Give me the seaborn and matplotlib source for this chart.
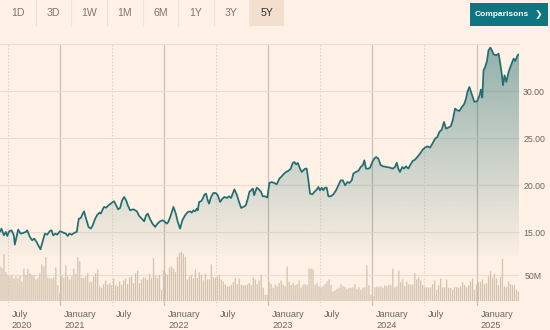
import numpy as np
import pandas as pd
import matplotlib
matplotlib.use("Agg")
import matplotlib.pyplot as plt
import matplotlib.dates as mdates
from matplotlib.patches import Polygon, Rectangle
import seaborn as sns

# ---------------- data ----------------
price_years = [
    2020.420, 2020.436, 2020.459, 2020.478, 2020.491, 2020.510, 2020.532, 2020.555, 2020.564, 2020.596,
    2020.619, 2020.645, 2020.670, 2020.683, 2020.709, 2020.731, 2020.750, 2020.773, 2020.789, 2020.811,
    2020.830, 2020.853, 2020.875, 2020.901, 2020.917, 2020.933, 2020.955, 2020.971, 2020.997, 2021.013,
    2021.029, 2021.052, 2021.071, 2021.087, 2021.109, 2021.132, 2021.157, 2021.177, 2021.196, 2021.215,
    2021.228, 2021.247, 2021.270, 2021.292, 2021.311, 2021.334, 2021.356, 2021.375, 2021.388, 2021.407,
    2021.420, 2021.439, 2021.462, 2021.484, 2021.504, 2021.516, 2021.536, 2021.555, 2021.574, 2021.593,
    2021.613, 2021.632, 2021.648, 2021.670, 2021.702, 2021.735, 2021.757, 2021.783, 2021.805, 2021.824,
    2021.840, 2021.863, 2021.885, 2021.911, 2021.933, 2021.958, 2021.981, 2022.000, 2022.023, 2022.038,
    2022.062, 2022.087, 2022.110, 2022.129, 2022.151, 2022.173, 2022.199, 2022.225, 2022.247, 2022.263,
    2022.279, 2022.295, 2022.312, 2022.321, 2022.334, 2022.353, 2022.369, 2022.385, 2022.401, 2022.417,
    2022.430, 2022.449, 2022.471, 2022.494, 2022.513, 2022.536, 2022.558, 2022.577, 2022.600, 2022.622,
    2022.641, 2022.654, 2022.673, 2022.696, 2022.718, 2022.738, 2022.760, 2022.783, 2022.802, 2022.817,
    2022.834, 2022.850, 2022.863, 2022.888, 2022.911, 2022.930, 2022.946, 2022.968, 2022.990, 2023.010,
    2023.033, 2023.055, 2023.081, 2023.106, 2023.129, 2023.151, 2023.170, 2023.192, 2023.215, 2023.235,
    2023.250, 2023.266, 2023.283, 2023.305, 2023.321, 2023.337, 2023.353, 2023.369, 2023.385, 2023.401,
    2023.423, 2023.442, 2023.465, 2023.481, 2023.497, 2023.513, 2023.529, 2023.545, 2023.561, 2023.577,
    2023.600, 2023.625, 2023.651, 2023.673, 2023.696, 2023.715, 2023.738, 2023.760, 2023.779, 2023.802,
    2023.817, 2023.840, 2023.865, 2023.888, 2023.908, 2023.923, 2023.939, 2023.962, 2023.978, 2024.000,
    2024.019, 2024.036, 2024.058, 2024.081, 2024.106, 2024.138, 2024.170, 2024.196, 2024.218, 2024.235,
    2024.250, 2024.266, 2024.288, 2024.305, 2024.324, 2024.346, 2024.363, 2024.388, 2024.411, 2024.433,
    2024.459, 2024.485, 2024.507, 2024.529, 2024.555, 2024.581, 2024.603, 2024.625, 2024.644, 2024.667,
    2024.689, 2024.709, 2024.731, 2024.754, 2024.773, 2024.795, 2024.817, 2024.837, 2024.860, 2024.882,
    2024.901, 2024.914, 2024.933, 2024.949, 2024.965, 2024.981, 2025.004, 2025.029, 2025.042, 2025.055,
    2025.067, 2025.083, 2025.100, 2025.115, 2025.132, 2025.148, 2025.163, 2025.189, 2025.212, 2025.228,
    2025.244, 2025.254, 2025.269, 2025.286, 2025.308, 2025.331, 2025.356, 2025.372, 2025.394, 2025.408,
]
price_values = [
    15.04, 15.39, 14.68, 15.04, 14.61, 15.11, 15.21, 14.68, 13.69, 15.28,
    14.86, 14.93, 15.04, 15.21, 14.50, 14.15, 14.33, 13.97, 13.62, 13.19,
    13.97, 14.86, 14.75, 15.14, 15.21, 14.68, 14.86, 14.75, 15.11, 15.04,
    14.96, 14.86, 14.61, 14.86, 14.75, 14.93, 15.04, 16.45, 16.52, 16.99,
    17.23, 16.45, 15.57, 15.39, 15.74, 16.45, 16.88, 17.09, 16.99, 17.45,
    17.70, 17.62, 17.87, 18.05, 18.23, 18.30, 17.87, 17.45, 17.59, 18.40,
    18.76, 18.40, 17.87, 17.34, 17.45, 17.23, 16.74, 16.45, 16.17, 16.81,
    16.99, 16.38, 15.92, 15.57, 15.92, 16.17, 16.28, 16.17, 15.92, 16.10,
    16.81, 17.70, 16.99, 16.10, 15.39, 16.28, 16.81, 17.16, 17.23, 17.09,
    17.34, 17.23, 17.52, 17.34, 18.23, 18.30, 18.58, 19.01, 19.11, 18.40,
    18.05, 18.76, 19.18, 19.18, 18.94, 18.23, 18.58, 18.76, 18.65, 18.83,
    18.65, 19.01, 19.57, 19.01, 18.23, 17.59, 17.70, 17.87, 18.58, 19.29,
    19.47, 19.65, 18.94, 19.75, 19.54, 19.29, 18.83, 18.83, 18.69, 20.25,
    20.35, 20.25, 20.11, 20.71, 20.96, 21.24, 21.42, 21.53, 21.77, 22.38,
    22.48, 22.23, 22.38, 21.77, 21.42, 21.60, 21.77, 21.77, 20.53, 19.11,
    19.04, 19.29, 19.54, 19.82, 19.47, 19.75, 19.47, 19.75, 19.75, 18.83,
    18.83, 19.04, 19.47, 20.00, 20.53, 20.53, 20.00, 20.35, 20.25, 20.53,
    21.24, 21.42, 21.53, 21.95, 22.13, 22.66, 21.77, 21.77, 21.88, 22.48,
    22.84, 23.01, 22.84, 22.13, 22.02, 21.95, 21.88, 21.77, 21.95, 22.41,
    21.77, 21.42, 21.95, 21.77, 22.02, 21.77, 22.13, 22.59, 22.73, 23.01,
    23.37, 23.80, 24.01, 24.15, 24.01, 24.50, 24.96, 25.14, 25.67, 25.92,
    26.74, 26.03, 26.14, 26.28, 26.91, 28.16, 27.98, 27.91, 28.33, 28.62,
    29.22, 29.93, 30.46, 29.93, 29.40, 28.87, 28.94, 29.57, 30.18, 29.33,
    32.23, 32.59, 33.23, 34.36, 34.65, 34.36, 33.94, 33.83, 34.01, 32.94,
    31.70, 30.64, 31.70, 31.00, 32.06, 32.77, 33.48, 33.23, 33.83, 33.94,
]

volume_first_week = "2020-06-03"
volume_millions = [
    67, 64, 91, 56, 51, 48, 51, 44, 48, 44, 49, 38, 63, 51, 63, 54, 51, 50, 42, 45,
    54, 71, 67, 85, 46, 44, 44, 46, 65, 31, 16, 50, 45, 69, 48, 42, 48, 63, 53, 85,
    77, 45, 45, 48, 54, 37, 38, 48, 54, 61, 29, 26, 33, 40, 32, 35, 31, 44, 31, 29,
    38, 32, 40, 44, 33, 46, 48, 35, 54, 59, 35, 42, 46, 45, 42, 53, 45, 83, 50, 45,
    51, 22, 59, 54, 51, 65, 67, 63,
    56, 85, 93, 95, 91, 85, 42, 48, 51, 44, 61, 45, 56, 51, 40, 53, 42, 42, 71, 46,
    45, 48, 51, 42, 38, 33, 29, 29, 32, 37, 45, 33, 44, 32, 31, 31, 32, 35, 31, 46,
    42, 33, 40, 51, 26, 13, 12, 37, 33, 26, 32, 29, 35, 40, 32, 29, 67, 38, 31, 35,
    31, 33, 40, 27, 32, 33, 32, 63, 63, 61, 32, 35, 29, 27, 29, 33, 38, 42, 32, 19,
    21, 24, 26, 33, 29, 27, 24,
    26, 26, 27, 33, 24, 27, 22, 26, 27, 69, 31, 13, 10, 27, 29, 27, 29, 26, 31, 29,
    32, 31, 63, 27, 29, 59, 37, 42, 29, 38, 33, 32, 32, 54, 42, 46, 40, 31, 27, 27,
    26, 27, 33, 40, 22, 31, 44, 27, 27, 42, 26, 26, 22, 27, 27, 26, 29, 37, 31, 27,
    31, 38, 44, 22, 32, 37, 38, 42, 33, 35, 48, 58, 46, 53, 44, 31, 46, 82, 29, 27,
    38, 33, 31, 31, 22, 19,
]

tab_labels = ["1D", "3D", "1W", "1M", "6M", "1Y", "3Y", "5Y"]
active_tab = "5Y"
button_label = "Comparisons"
price_ticks = [15, 20, 25, 30]
price_tick_labels = ["15.00", "20.00", "25.00", "30.00"]
volume_ticks = [50]
volume_tick_labels = ["50M"]
year_tick_dates = ["2021-01-01", "2022-01-01", "2023-01-01", "2024-01-01", "2025-01-01"]
july_tick_dates = ["2020-07-01", "2021-07-01", "2022-07-01", "2023-07-01", "2024-07-01"]
axis_labels = [
    ("2020-07-01", "July", "2020"), ("2021-01-01", "January", "2021"),
    ("2021-07-01", "July", ""), ("2022-01-01", "January", "2022"),
    ("2022-07-01", "July", ""), ("2023-01-01", "January", "2023"),
    ("2023-07-01", "July", ""), ("2024-01-01", "January", "2024"),
    ("2024-07-01", "July", ""), ("2025-01-01", "January", "2025"),
]

# ---------------- style ----------------
BG = "#fff1e5"
LINE = "#226e71"
GRID = "#eadcd0"
MAJOR = "#cabfb4"
MINOR = "#e3d6c9"
BAR = "#d3c2ae"
TXT = "#6b6560"

sns.set_theme(style="white", rc={"axes.facecolor": "none", "figure.facecolor": BG})
plt.rcParams["font.family"] = ["Liberation Sans", "DejaVu Sans"]

W, H = 550, 330


def dec_to_ts(y):
    yr = int(np.floor(y))
    return pd.Timestamp(yr, 1, 1) + pd.Timedelta(days=(y - yr) * 365.25)


price_dates = [dec_to_ts(y) for y in price_years]
df = pd.DataFrame({"date": price_dates, "price": price_values})
vol_dates = pd.date_range(volume_first_week, periods=len(volume_millions), freq="7D")

x_lo = pd.Timestamp("2020-06-03")
x_hi = pd.Timestamp("2025-05-30")
P_LO, P_HI = 12.5, 35.0
V_HI = 98.7


def fr(px_left, px_top, px_w, px_h):
    return [px_left / W, 1 - (px_top + px_h) / H, px_w / W, px_h / H]


fig = plt.figure(figsize=(W / 100, H / 100), dpi=100)
fig.patch.set_facecolor(BG)

AX_W = 519
# overlay for vertical grid lines
ax0 = fig.add_axes(fr(0, 44.3, AX_W, 306 - 44.3))
ax0.set_xlim(x_lo, x_hi)
ax0.set_ylim(0, 1)
for d in year_tick_dates:
    ax0.axvline(pd.Timestamp(d), color=MAJOR, lw=0.9, zorder=0)
for d in july_tick_dates:
    ax0.axvline(pd.Timestamp(d), color=MINOR, lw=0.8, ls=(0, (1.5, 1.5)), zorder=0)
ax0.axis("off")

# volume axes
axv = fig.add_axes(fr(0, 250.0, AX_W, 51.3))
axv.set_xlim(x_lo, x_hi)
axv.set_ylim(0, V_HI)
bars = axv.bar(vol_dates, volume_millions, width=4.4, color=BAR, linewidth=0, zorder=2)
for b in bars:
    b.set_snap(False)
for v in volume_ticks:
    axv.axhline(v, color=GRID, lw=0.8, zorder=1)
axv.yaxis.tick_right()
axv.set_yticks(volume_ticks)
axv.set_yticklabels(volume_tick_labels)
axv.tick_params(axis="y", length=0, pad=4, labelsize=6.3, labelcolor=TXT)
tick_dates = sorted([pd.Timestamp(d) for d in year_tick_dates + july_tick_dates])
axv.set_xticks(tick_dates)
axv.set_xticklabels([])
axv.tick_params(axis="x", direction="out", length=3.3, width=0.8, color="#bdb1a6", pad=0)
for s in axv.spines.values():
    s.set_visible(False)
axv.set_xlim(x_lo, x_hi)
for d, m, y in axis_labels:
    axv.annotate(m, xy=(pd.Timestamp(d), 0), xycoords=("data", "axes fraction"),
                 xytext=(4, -13.2), textcoords="offset pixels", ha="left", va="center",
                 fontsize=6.6, color=TXT, annotation_clip=False)
    if y:
        axv.annotate(y, xy=(pd.Timestamp(d), 0), xycoords=("data", "axes fraction"),
                     xytext=(4, -24.2), textcoords="offset pixels", ha="left", va="center",
                     fontsize=6.6, color=TXT, annotation_clip=False)

# price axes
ax = fig.add_axes(fr(0, 44.3, AX_W, 255.8 - 44.3))
for v in price_ticks + [35]:
    ax.axhline(v, color=GRID, lw=0.8, zorder=0, clip_on=False)

xn = mdates.date2num(df["date"])
verts = np.column_stack([np.r_[xn[0], xn, xn[-1]], np.r_[P_LO, df["price"].values, P_LO]])
clip = Polygon(verts, closed=True, facecolor="none", edgecolor="none")
ax.add_patch(clip)
rgb = matplotlib.colors.to_rgb(LINE)
alpha = np.linspace(0.02, 0.50, 256)
grad = np.zeros((256, 1, 4))
grad[..., 0], grad[..., 1], grad[..., 2] = rgb
grad[:, 0, 3] = alpha
im = ax.imshow(grad, extent=[mdates.date2num(x_lo), mdates.date2num(x_hi), P_LO, P_HI],
               aspect="auto", origin="lower", zorder=1, interpolation="bilinear")
im.set_clip_path(clip)

sns.lineplot(data=df, x="date", y="price", ax=ax, color=LINE, linewidth=1.25, zorder=3)
ax.set_xlim(x_lo, x_hi)
ax.set_ylim(P_LO, P_HI)
ax.yaxis.tick_right()
ax.set_yticks(price_ticks)
ax.set_yticklabels(price_tick_labels)
ax.tick_params(axis="y", length=0, pad=3, labelsize=6.3, labelcolor=TXT)
ax.set_xticks([])
ax.set_xlabel("")
ax.set_ylabel("")
for s in ax.spines.values():
    s.set_visible(False)

# ---------------- header: period tabs and button ----------------
sep_x = [35.8, 71.2, 107.0, 142.8, 178.0, 213.7, 249.0, 284.5]
left = 0.0
for i, lab in enumerate(tab_labels):
    right = sep_x[i]
    if lab == active_tab:
        fig.patches.append(Rectangle((left / W, 1 - 25.5 / H), (right - left) / W, 25.5 / H,
                                     transform=fig.transFigure, facecolor="#f2dfce",
                                     edgecolor="none", zorder=0))
    else:
        fig.lines.append(matplotlib.lines.Line2D([right / W, right / W], [1 - 25.5 / H, 1],
                                                 transform=fig.transFigure, color="#efe2d6", lw=0.9))
    fig.text((left + right) / 2 / W, 1 - 12.5 / H, lab, ha="center", va="center",
             fontsize=7.6, color="#33302e" if lab == active_tab else "#7d7670")
    left = right

fig.patches.append(Rectangle((470 / W, 1 - 25.5 / H), 78 / W, 22.5 / H, transform=fig.transFigure,
                             facecolor="#0d7680", edgecolor="none"))
fig.text(502 / W, 1 - 14.2 / H, button_label, ha="center", va="center", fontsize=6.0,
         fontweight="bold", color="white")
fig.text(538.5 / W, 1 - 14.2 / H, "\u276f", ha="center", va="center", fontsize=6.5,
         fontweight="bold", color="white", family=["DejaVu Sans"])

fig.savefig("out.png", dpi=100, facecolor=BG)
